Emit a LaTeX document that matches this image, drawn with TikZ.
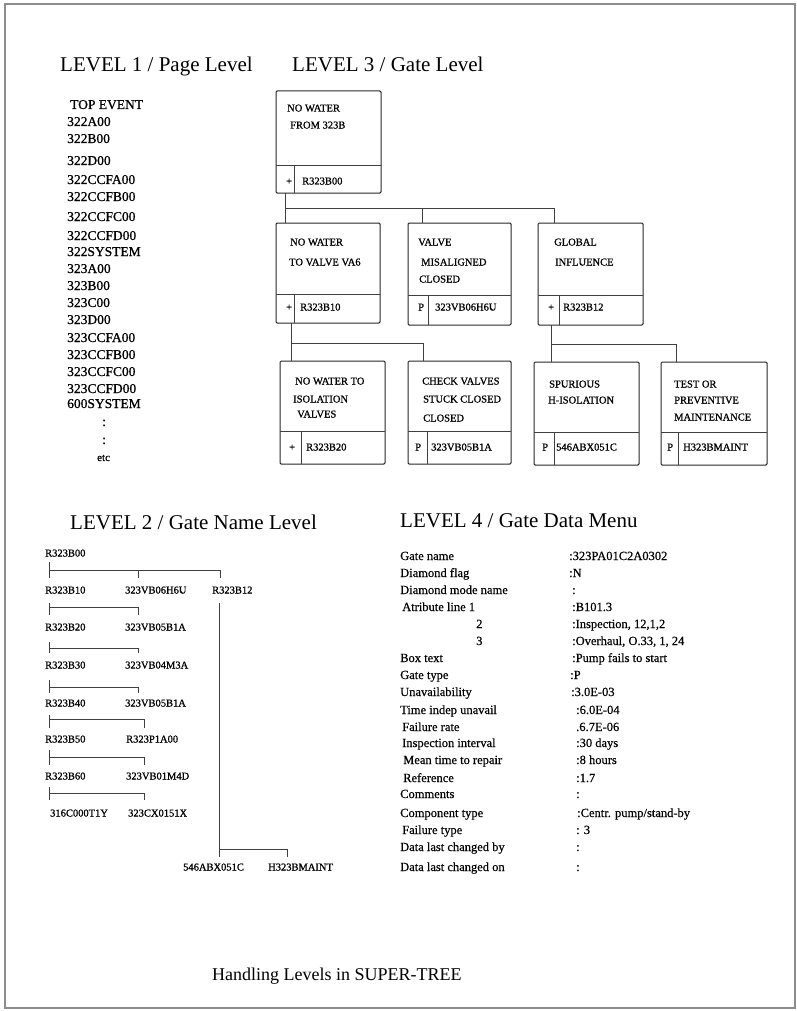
\documentclass[tikz,border=0pt]{standalone}
\usepackage{fontspec}
\setmainfont{Liberation Serif}
% a slightly heavier cut for the small listings
\newfontfamily\heavyserif[FakeBold=0.9]{Liberation Serif}
\newfontfamily\midserif[FakeBold=0.4]{Liberation Serif}
\begin{document}
\begin{tikzpicture}[x=1pt,y=-1pt,
  title/.style={anchor=base west, inner sep=0pt, font=\fontsize{21}{21}\selectfont},
  lone/.style={anchor=base west, inner sep=0pt, font=\heavyserif\fontsize{13.5}{14}\selectfont},
  btxt/.style={anchor=base west, inner sep=0pt, font=\heavyserif\fontsize{10.5}{11}\selectfont},
  ltwo/.style={anchor=base west, inner sep=0pt, font=\heavyserif\fontsize{10.5}{11}\selectfont},
  lfour/.style={anchor=base west, inner sep=0pt, font=\midserif\fontsize{12.5}{13}\selectfont},
  captext/.style={anchor=base west, inner sep=0pt, font=\fontsize{18}{18}\selectfont},
  gbox/.style={draw=black!85, line width=1pt, rounded corners=1.2pt, inner sep=0pt, outer sep=0pt},
  gdiv/.style={draw=black!75, line width=0.8pt},
  wire/.style={draw=black!75, line width=0.8pt},
  frame/.style={draw=black!45, line width=1.6pt}]

\useasboundingbox (0,0) rectangle (797,1011);
\draw[frame] (5,4) rectangle (795,1008);

% ---------- headings ----------
\node[title] (h1) at (60,72)  {LEVEL 1 / Page Level};
\node[title] (h3) at (292,72) {LEVEL 3 / Gate Level};
\node[title] (h2) at (70,529) {LEVEL 2 / Gate Name Level};
\node[title] (h4) at (400,527) {LEVEL 4 / Gate Data Menu};
\node[captext] (capt) at (212,980) {Handling Levels in SUPER-TREE};

% ---------- level 1: page list ----------
\node[lone] (ev0) at (70,109) {TOP EVENT};
\foreach \t/\y [count=\i] in {322A00/126, 322B00/143, 322D00/165, 322CCFA00/184,
    322CCFB00/201, 322CCFC00/221, 322CCFD00/240, 322SYSTEM/256, 323A00/273,
    323B00/290, 323C00/307, 323D00/324, 323CCFA00/342, 323CCFB00/359,
    323CCFC00/376, 323CCFD00/393, 600SYSTEM/408}
  \node[lone] (ev\i) at (67,\y) {\t};
\node[lone] (dot1) at (102,426) {:};
\node[lone] (dot2) at (102,444) {:};
\node[lone, font=\heavyserif\fontsize{11}{12}\selectfont] (etc) at (97,461) {etc};

% ---------- level 3: gate boxes ----------
% name, left, top, width, height, divider y, divider x
\newcommand\gatebox[7]{%
  \node[gbox, anchor=north west, minimum width=#4pt, minimum height=#5pt] (#1) at (#2,#3) {};
  \draw[gdiv] (#2,#6) -- ++(#4,0);
  \draw[gdiv] (#7,#6) -- (#7,#3+#5);
}
\gatebox{g0}{276}{91}{105}{102}{165}{294}
\gatebox{g1}{276}{223}{104}{100}{294}{294}
\gatebox{g2}{408}{223}{103}{102}{295}{428}
\gatebox{g3}{538}{223}{105}{102}{295}{559}
\gatebox{g4}{280}{361}{105}{103}{431}{301}
\gatebox{g5}{408}{361}{103}{103}{431}{427}
\gatebox{g6}{534}{362}{105}{103}{432}{554}
\gatebox{g7}{661}{362}{106}{103}{432}{678}

% box texts
\node[btxt] (g0a) at (287,111.5) {NO WATER};
\node[btxt] (g0b) at (290,128.5) {FROM 323B};
\node[btxt] (g0s) at (286,184.5) {+};
\node[btxt] (g0c) at (302,184.5) {R323B00};

\node[btxt] (g1a) at (290,245.5) {NO WATER};
\node[btxt] (g1b) at (289,265.5) {TO VALVE VA6};
\node[btxt] (g1s) at (286,310.5) {+};
\node[btxt] (g1c) at (300,310.5) {R323B10};

\node[btxt] (g2a) at (418,245.5) {VALVE};
\node[btxt] (g2b) at (421,265.5) {MISALIGNED};
\node[btxt] (g2c) at (419,282.5) {CLOSED};
\node[btxt] (g2s) at (418,310.5) {P};
\node[btxt] (g2d) at (435,310.5) {323VB06H6U};

\node[btxt] (g3a) at (554,245.5) {GLOBAL};
\node[btxt] (g3b) at (555,265.5) {INFLUENCE};
\node[btxt] (g3s) at (548,310.5) {+};
\node[btxt] (g3c) at (563,310.5) {R323B12};

\node[btxt] (g4a) at (295,384.5) {NO WATER TO};
\node[btxt] (g4b) at (293,402.5) {ISOLATION};
\node[btxt] (g4c) at (297,417.5) {VALVES};
\node[btxt] (g4s) at (289,450.5) {+};
\node[btxt] (g4d) at (306,450.5) {R323B20};

\node[btxt] (g5a) at (422,384.5) {CHECK VALVES};
\node[btxt] (g5b) at (423,402.5) {STUCK CLOSED};
\node[btxt] (g5c) at (423,421.5) {CLOSED};
\node[btxt] (g5s) at (415,450.5) {P};
\node[btxt] (g5d) at (431,450.5) {323VB05B1A};

\node[btxt] (g6a) at (549,387.5) {SPURIOUS};
\node[btxt] (g6b) at (548,403.5) {H-ISOLATION};
\node[btxt] (g6s) at (542,450.5) {P};
\node[btxt] (g6d) at (556,450.5) {546ABX051C};

\node[btxt] (g7a) at (674,387.5) {TEST OR};
\node[btxt] (g7b) at (674,403.5) {PREVENTIVE};
\node[btxt] (g7c) at (674,420.5) {MAINTENANCE};
\node[btxt] (g7s) at (667,450.5) {P};
\node[btxt] (g7d) at (683,450.5) {H323BMAINT};

% connectors between gates
\coordinate (s0) at (285,208);
\coordinate (s0m) at (422,208);
\coordinate (s0r) at (554,208);
\draw[wire] (g0.south -| s0) -- (g1.north -| s0);
\draw[wire] (s0) -- (s0r) -- (g3.north -| s0r);
\draw[wire] (s0m) -- (g2.north -| s0m);

\coordinate (s1) at (291,343);
\coordinate (s1r) at (423,343);
\draw[wire] (g1.south -| s1) -- (g4.north -| s1);
\draw[wire] (s1) -- (s1r) -- (g5.north -| s1r);

\coordinate (s2) at (551,344);
\coordinate (s2r) at (676,344);
\draw[wire] (g3.south -| s2) -- (g6.north -| s2);
\draw[wire] (s2) -- (s2r) -- (g7.north -| s2r);

% ---------- level 2: gate name tree ----------
\node[ltwo] (t0) at (45,556.5) {R323B00};
\node[ltwo] (t1a) at (45,593.5) {R323B10};
\node[ltwo] (t1b) at (125,593.5) {323VB06H6U};
\node[ltwo] (t1c) at (212,593.5) {R323B12};
\node[ltwo] (t2a) at (45,630.5) {R323B20};
\node[ltwo] (t2b) at (125,630.5) {323VB05B1A};
\node[ltwo] (t3a) at (45,668.5) {R323B30};
\node[ltwo] (t3b) at (125,668.5) {323VB04M3A};
\node[ltwo] (t4a) at (45,706.5) {R323B40};
\node[ltwo] (t4b) at (125,706.5) {323VB05B1A};
\node[ltwo] (t5a) at (45,742.5) {R323B50};
\node[ltwo] (t5b) at (126,742.5) {R323P1A00};
\node[ltwo] (t6a) at (45,779.5) {R323B60};
\node[ltwo] (t6b) at (126,779.5) {323VB01M4D};
\node[ltwo] (t7a) at (50,816.5) {316C000T1Y};
\node[ltwo] (t7b) at (128,816.5) {323CX0151X};
\node[ltwo] (t8a) at (183,870.5) {546ABX051C};
\node[ltwo] (t8b) at (268,870.5) {H323BMAINT};

% branch junctions: left stem, horizontal run, right drop
\coordinate (k0) at (49,570);
\draw[wire] (49,562) -- (49,578);
\draw[wire] (k0) -- (220,570) -- (220,578);
\draw[wire] (138,570) -- (138,578);
\foreach \ya/\yh/\yb/\xr in {603/607/615/138, 642/648/653/138, 680/687/693/138,
    715/719/728/144, 750/757/765/144, 787/793/800/144}{
  \draw[wire] (49,\ya) -- (49,\yb);
  \draw[wire] (49,\yh) -- (\xr,\yh) -- (\xr,\yb);
}
\coordinate (k8) at (219,849);
\draw[wire] (219,603) -- (219,857);
\draw[wire] (k8) -- (287,849) -- (287,857);

% ---------- level 4: gate data menu ----------
\foreach \lx/\vx/\y/\lab/\val [count=\i] in {
   400/569/560/{Gate name}/{:323PA01C2A0302},
   400/569/577/{Diamond flag}/{:N},
   400/572/594/{Diamond mode name}/{:},
   402/572/611/{Atribute line 1}/{:B101.3},
   476/572/628/{2}/{:Inspection, 12,1,2},
   476/572/645/{3}/{:Overhaul, O.33, 1, 24},
   400/572/662/{Box text}/{:Pump fails to start},
   400/570/679/{Gate type}/{:P},
   400/571/696/{Unavailability}/{:3.0E-03},
   400/576/714/{Time indep unavail}/{:6.0E-04},
   402/576/731/{Failure rate}/{.6.7E-06},
   402/576/747/{Inspection interval}/{:30 days},
   403/576/764/{Mean time to repair}/{:8 hours},
   403/576/782/{Reference}/{:1.7},
   400/576/798/{Comments}/{:},
   400/577/817/{Component type}/{:Centr. pump/stand-by},
   402/576/834/{Failure type}/{: 3},
   400/576/851/{Data last changed by}/{:},
   400/576/871/{Data last changed on}/{:}}{
  \node[lfour] (m\i) at (\lx,\y) {\lab};
  \node[lfour] (v\i) at (\vx,\y) {\val};
}
\end{tikzpicture}
\end{document}
